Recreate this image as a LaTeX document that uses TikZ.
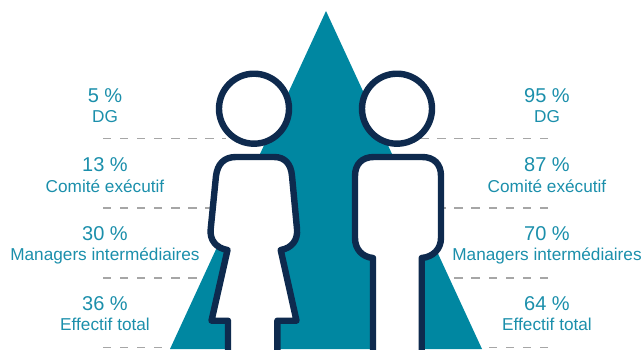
\documentclass[tikz,border=0pt]{standalone}
\usepackage{fontspec}
\setmainfont{Liberation Sans}
\definecolor{teal1}{HTML}{0087A1}
\definecolor{tealtxt}{HTML}{1B8FAB}
\definecolor{navy}{HTML}{0E2A4E}
\definecolor{dashgrey}{HTML}{A6A6A6}
\tikzset{
  person/.style={draw=navy,fill=white,line width=4.8pt,line join=round},
  guide/.style={draw=dashgrey,line width=1.1pt,dash pattern=on 6.2pt off 6.6pt},
  pct/.style={text=tealtxt,font=\fontsize{15pt}{18pt}\selectfont,inner sep=0pt,anchor=center},
  lab/.style={text=tealtxt,font=\fontsize{12.9pt}{15pt}\selectfont,inner sep=0pt,anchor=center},
}
\begin{document}
\begin{tikzpicture}[x=0.75pt,y=-0.75pt]
\useasboundingbox (0,0) rectangle (641,349);
% guides
\foreach \yy/\xa/\xb in {138.5/226/420,208/213/443,278/198/453,347.5/165/487}{
  \draw[guide] (103,\yy) -- (\xa,\yy);
  \draw[guide] (548,\yy) -- (\xb,\yy);
}
% triangle
\fill[teal1] (326,11) -- (482,349) -- (170,349) -- cycle;
\begin{scope}
\clip (0,0) rectangle (641,352);
\draw[person] (254,108.7) circle[radius=35];
\draw[person] (397,108.7) circle[radius=35];
\draw[person] (228,356) -- (228,320.7) -- (211.5,320.7) -- (227.5,250)
  .. controls (216,248) and (209.5,240) .. (210.7,229)
  -- (216,176) .. controls (217.5,164) and (224,157) .. (236,157)
  -- (274,157) .. controls (285,157) and (291,164) .. (292,176)
  -- (297,229) .. controls (298,240) and (292,248) .. (280.7,250)
  -- (296.5,320.7) -- (277.3,320.7) -- (277.3,356);
\draw[person] (373,356) -- (373,258)
  .. controls (362,257) and (355,249) .. (355,238)
  -- (355,176) .. controls (355,164) and (362,157) .. (374,157)
  -- (422,157) .. controls (434,157) and (441,164) .. (441,176)
  -- (441,238) .. controls (441,249) and (433,257) .. (421.7,258)
  -- (421.7,356);
\end{scope}
% labels left
\node[pct] (pa) at (105,96) {5 \%};
\node[lab] (la) at (105,116.5) {DG};
\node[pct] (pb) at (105,165) {13 \%};
\node[lab] (lb) at (105,186) {Comité exécutif};
\node[pct] (pc) at (105,234) {30 \%};
\node[lab] (lc) at (105,255.5) {Managers intermédiaires};
\node[pct] (pd) at (105,303.5) {36 \%};
\node[lab] (ld) at (105,324.5) {Effectif total};
% labels right
\node[pct] (qa) at (547,96) {95 \%};
\node[lab] (ma) at (547,116.5) {DG};
\node[pct] (qb) at (547,165) {87 \%};
\node[lab] (mb) at (547,186) {Comité exécutif};
\node[pct] (qc) at (547,234) {70 \%};
\node[lab] (mc) at (547,255.5) {Managers intermédiaires};
\node[pct] (qd) at (547,303.5) {64 \%};
\node[lab] (md) at (547,324.5) {Effectif total};
\end{tikzpicture}
\end{document}
